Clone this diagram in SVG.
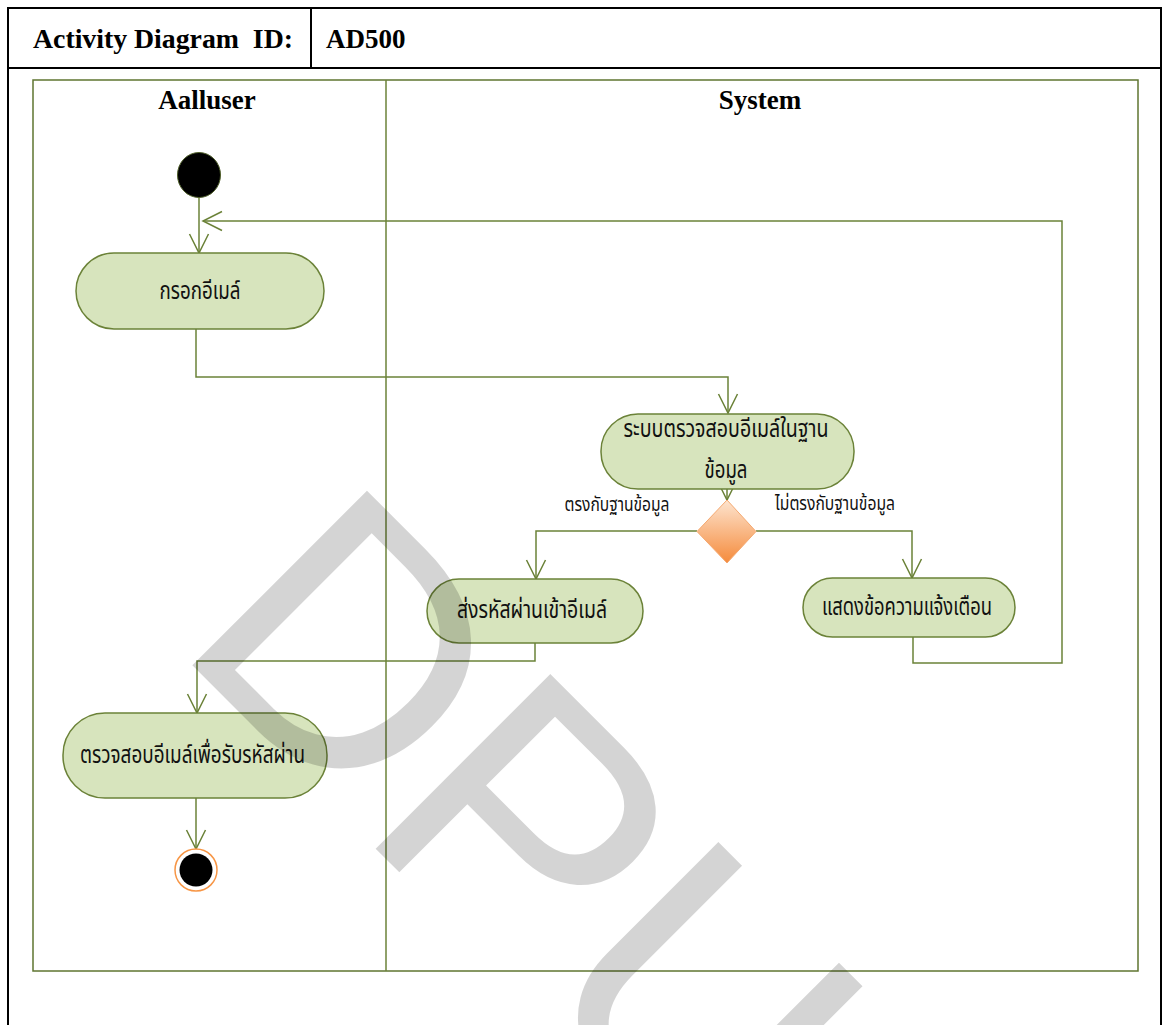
<svg xmlns="http://www.w3.org/2000/svg" width="1163" height="1025" viewBox="0 0 1163 1025">
<style>
.hdr{font-family:"Liberation Serif","Times New Roman",serif;font-weight:bold;fill:#000;}
.lane{font-family:"Liberation Serif","Times New Roman",serif;font-weight:bold;font-size:27px;fill:#000;text-anchor:middle;}
.th{font-family:"Noto Sans Thai","Noto Sans","DejaVu Sans",sans-serif;font-size:24px;fill:#111;text-anchor:middle;}
.ths{font-family:"Noto Sans Thai","Noto Sans","DejaVu Sans",sans-serif;font-size:20px;fill:#111;text-anchor:middle;}
.act{fill:#d7e4bd;stroke:#6b8238;stroke-width:1.5;}
.con{fill:none;stroke:#6b8238;stroke-width:1.5;marker-end:url(#arr);}
.conp{fill:none;stroke:#6b8238;stroke-width:1.5;}
</style>
<defs>
<marker id="arr" viewBox="-22 -12 24 24" refX="0" refY="0" markerWidth="24" markerHeight="24" markerUnits="userSpaceOnUse" orient="auto">
<path d="M-19,-9.5 L0,0 L-19,9.5" fill="none" stroke="#6b8238" stroke-width="1.5"/>
</marker>
<linearGradient id="dg" x1="0" y1="0" x2="0" y2="1">
<stop offset="0" stop-color="#fde4cf"/>
<stop offset="1" stop-color="#f58b3c"/>
</linearGradient>
</defs>
<rect x="0" y="0" width="1163" height="1025" fill="#fff"/>
<!-- header table -->
<g id="header">
<path d="M8,1025 V8 H1161 V1025" fill="none" stroke="#000" stroke-width="2"/>
<line x1="8" y1="68" x2="1161" y2="68" stroke="#000" stroke-width="2"/>
<line x1="311" y1="8" x2="311" y2="68" stroke="#000" stroke-width="2"/>
<text class="hdr" x="33" y="48" font-size="27" textLength="260" lengthAdjust="spacingAndGlyphs" xml:space="preserve">Activity Diagram  ID:</text>
<text class="hdr" x="326" y="48" font-size="27">AD500</text>
</g>
<!-- swimlanes -->
<g id="lanes">
<rect x="33" y="80" width="1105" height="891" fill="none" stroke="#5f7530" stroke-width="1.5"/>
<line x1="386" y1="80" x2="386" y2="971" stroke="#6b8238" stroke-width="1.5"/>
<text class="lane" x="207" y="109">Aalluser</text>
<text class="lane" x="760" y="109">System</text>
</g>
<!-- connectors -->
<g id="connectors">
<path class="con" d="M199,197 V253"/>
<path class="con" d="M196,329 V377 H728 V413"/>
<path class="con" d="M727,489 V500"/>
<path class="con" d="M697,531 H536 V579"/>
<path class="con" d="M756,531 H912 V578"/>
<path class="con" d="M535,643 V661 H197 V713"/>
<path class="con" d="M913,637 V663 H1062 V221 H203"/>
<path class="con" d="M196,798 V849"/>
</g>
<g id="start">
<ellipse cx="199" cy="175" rx="21.5" ry="22.5" fill="#000" stroke="#4f5f2a" stroke-width="1"/>
</g>
<g id="a1">
<rect class="act" x="76" y="253" width="248" height="76" rx="38" ry="38"/>
<text class="th" x="200" y="299" textLength="81" lengthAdjust="spacingAndGlyphs">กรอกอีเมล์</text>
</g>
<g id="a2">
<rect class="act" x="601" y="414" width="253" height="75" rx="37" ry="37"/>
<text class="th" x="726" y="437" textLength="205" lengthAdjust="spacingAndGlyphs">ระบบตรวจสอบอีเมล์ในฐาน</text>
<text class="th" x="726" y="478" textLength="43" lengthAdjust="spacingAndGlyphs">ข้อมูล</text>
</g>
<g id="decision">
<polygon points="727,500 756,531.5 727,563 697,531.5" fill="url(#dg)" stroke="#f4a870" stroke-width="1"/>
<text class="ths" x="617" y="511" textLength="105" lengthAdjust="spacingAndGlyphs">ตรงกับฐานข้อมูล</text>
<text class="ths" x="835" y="510" textLength="120" lengthAdjust="spacingAndGlyphs">ไม่ตรงกับฐานข้อมูล</text>
</g>
<g id="a3">
<rect class="act" x="427" y="579" width="216" height="64" rx="32" ry="32"/>
<text class="th" x="532" y="618" textLength="150" lengthAdjust="spacingAndGlyphs">ส่งรหัสผ่านเข้าอีเมล์</text>
</g>
<g id="a4">
<rect class="act" x="803" y="578" width="212" height="59" rx="29.5" ry="29.5"/>
<text class="th" x="907" y="615" textLength="170" lengthAdjust="spacingAndGlyphs">แสดงข้อความแจ้งเตือน</text>
</g>
<g id="a5">
<rect class="act" x="63" y="713" width="264" height="85" rx="42" ry="42"/>
<text class="th" x="192.5" y="763" textLength="225" lengthAdjust="spacingAndGlyphs">ตรวจสอบอีเมล์เพื่อรับรหัสผ่าน</text>
</g>
<g id="end">
<circle cx="196" cy="870" r="21" fill="#fff" stroke="#f79646" stroke-width="1.5"/>
<circle cx="196" cy="870" r="16.5" fill="#000"/>
</g>
<g id="watermark">
<text x="0" y="0" transform="translate(171.5,644.5) rotate(45)" font-family="Liberation Sans, Arial, sans-serif" font-size="359" fill="#000" fill-opacity="0.17">DPU</text>
</g>
</svg>
